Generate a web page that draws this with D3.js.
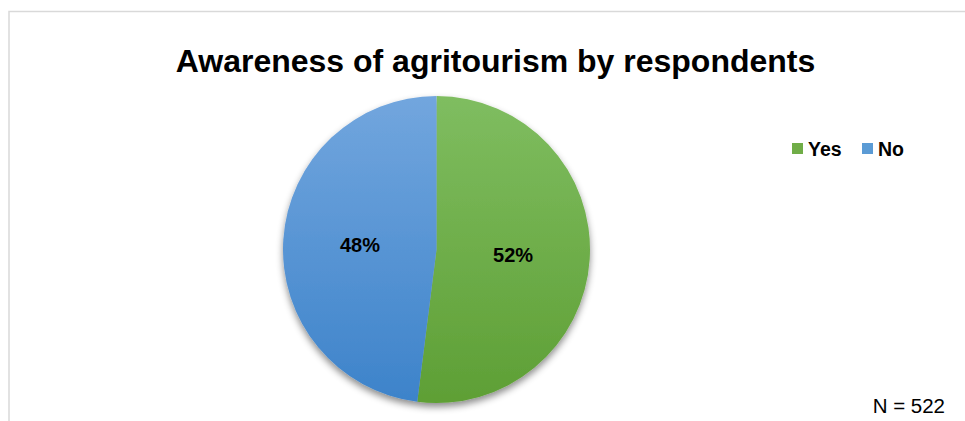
<!DOCTYPE html>
<html>
<head>
<meta charset="utf-8">
<script src="https://cdn.jsdelivr.net/npm/d3@7"></script>
<style>
  html, body { margin: 0; padding: 0; background: #fff; }
  svg { display: block; font-family: "Liberation Sans", Arial, sans-serif; }
</style>
</head>
<body>
<svg id="chart" width="965" height="421"></svg>
<script>
// Survey answers and their shares (%)
const categories = ["Yes", "No"];
const shares = [52, 48];
const sampleNote = "N = 522";
const title = "Awareness of agritourism by respondents";

const W = 965, H = 421;
const svg = d3.select("#chart");

// chart frame
svg.append("path")
  .attr("d", `M9,${H} V11.5 H${W}`)
  .attr("fill", "none")
  .attr("stroke", "#d9d9d9")
  .attr("stroke-width", 1.5);

svg.append("text")
  .attr("x", 495.5).attr("y", 72)
  .attr("text-anchor", "middle")
  .attr("font-size", 32).attr("font-weight", "bold")
  .attr("fill", "#000")
  .text(title);

const defs = svg.append("defs");
const grads = [
  { id: "gYes", top: "#7fbd60", bottom: "#5e9f35" },
  { id: "gNo", top: "#72a6de", bottom: "#3d83ca" }
];
grads.forEach(g => {
  const lg = defs.append("linearGradient")
    .attr("id", g.id).attr("x1", 0).attr("y1", 0).attr("x2", 0).attr("y2", 1);
  lg.append("stop").attr("offset", "0%").attr("stop-color", g.top);
  lg.append("stop").attr("offset", "100%").attr("stop-color", g.bottom);
});
const shadow = defs.append("filter").attr("id", "shadow")
  .attr("x", "-20%").attr("y", "-20%").attr("width", "140%").attr("height", "140%");
shadow.append("feDropShadow")
  .attr("dx", 0).attr("dy", 4).attr("stdDeviation", 3.5)
  .attr("flood-color", "#000").attr("flood-opacity", 0.45);

const color = d3.scaleOrdinal().domain(categories).range(["url(#gYes)", "url(#gNo)"]);
const swatch = d3.scaleOrdinal().domain(categories).range(["#70ad47", "#5b9bd5"]);

const cx = 436.5, cy = 249.5, r = 153.5;
const data = categories.map((c, i) => ({ cat: c, value: shares[i] }));
const pie = d3.pie().value(d => d.value).sort(null);
const arc = d3.arc().innerRadius(0).outerRadius(r);
const arcs = pie(data);

const g = svg.append("g").attr("transform", `translate(${cx},${cy})`);
g.append("g").attr("filter", "url(#shadow)")
  .selectAll("path").data(arcs).join("path")
  .attr("d", arc)
  .attr("fill", d => color(d.data.cat));

// value labels
const labelArc = d3.arc().innerRadius(r * 0.5).outerRadius(r * 0.5);
g.selectAll("text.lbl").data(arcs).join("text")
  .attr("class", "lbl")
  .attr("transform", d => {
    const [x, y] = labelArc.centroid(d);
    return `translate(${x},${y})`;
  })
  .attr("text-anchor", "middle")
  .attr("dy", "0.36em")
  .attr("font-size", 20).attr("font-weight", "bold")
  .attr("fill", "#000")
  .text(d => d.data.value + "%");

// legend
const legendX = [792, 862];
const lg = svg.append("g");
categories.forEach((c, i) => {
  lg.append("rect")
    .attr("x", legendX[i]).attr("y", 143)
    .attr("width", 11).attr("height", 11)
    .attr("fill", swatch(c));
  lg.append("text")
    .attr("x", legendX[i] + 16).attr("y", 156)
    .attr("font-size", 19.5).attr("font-weight", "bold")
    .attr("fill", "#000")
    .text(c);
});

svg.append("text")
  .attr("x", 945).attr("y", 413)
  .attr("text-anchor", "end")
  .attr("font-size", 20.5)
  .attr("fill", "#000")
  .text(sampleNote);
</script>
</body>
</html>
